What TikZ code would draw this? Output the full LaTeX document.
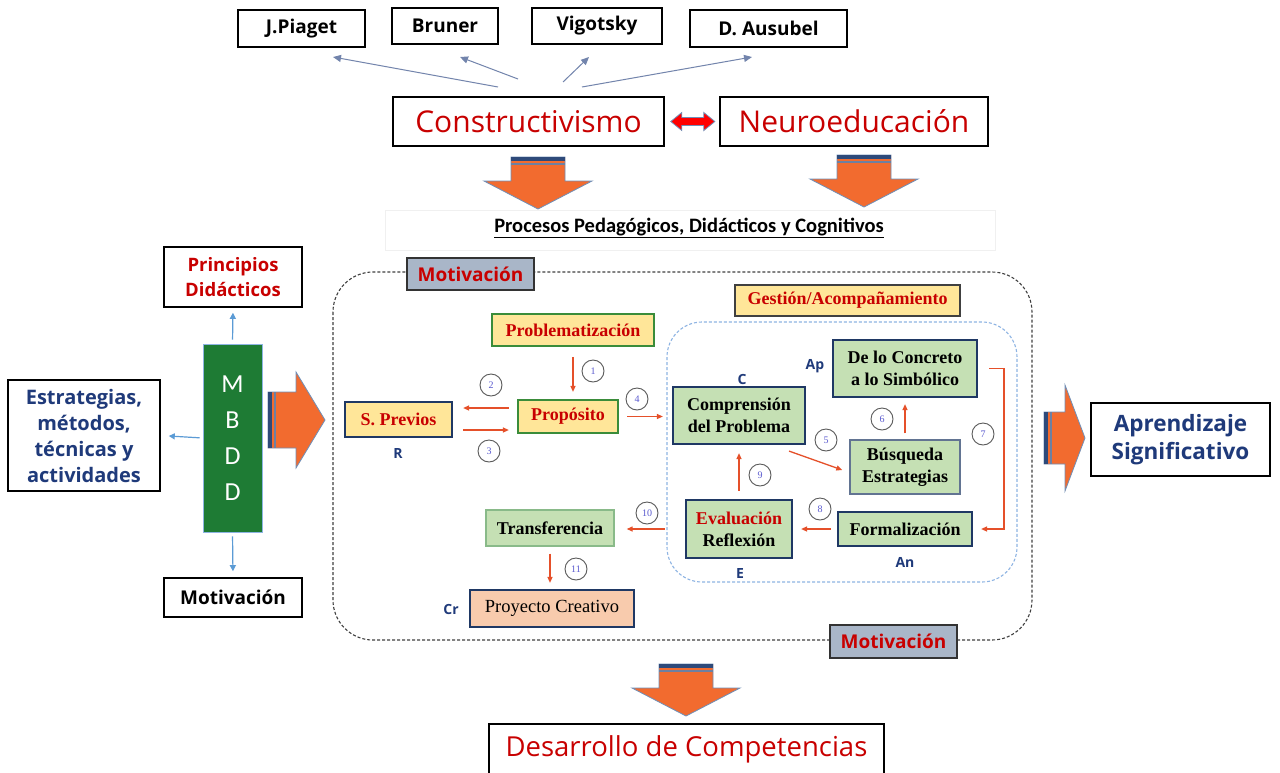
\documentclass[tikz,border=0pt]{standalone}
\usepackage{fontspec}
\setmainfont{Liberation Serif}
\newfontfamily\comicfont{Open Sans}
\newfontfamily\calibrifont{Carlito}
\usepackage{tikz}
\usetikzlibrary{
  arrows.meta,
  calc
}
\definecolor{arrowOrange}{HTML}{F26B2F}
\definecolor{arrowEdge}{HTML}{6F8FB8}
\definecolor{stripeBlue}{HTML}{2E4A7A}
\definecolor{titleRed}{HTML}{C80000}
\definecolor{textNavy}{HTML}{1F3A7A}
\definecolor{boxNavy}{HTML}{1F3864}
\definecolor{boxGreen}{HTML}{3A8C3A}
\definecolor{paleYellow}{HTML}{FFE699}
\definecolor{paleGreen}{HTML}{C5E0B4}
\definecolor{paleSalmon}{HTML}{F8CBAD}
\definecolor{mbddGreen}{HTML}{1E7B34}
\definecolor{lightArrow}{HTML}{5B9BD5}
\definecolor{motivGray}{HTML}{A9B6C8}
\definecolor{flowRed}{HTML}{E5502A}
\definecolor{frameBlue}{HTML}{8EB4E3}
\definecolor{numBlue}{HTML}{5A5ACF}
\definecolor{fanLine}{HTML}{7284AC}
\tikzset{
  every node/.style={inner sep=2pt},
  author/.style={draw=black,line width=1.6pt,fill=white,font=\comicfont\bfseries\fontsize{19}{22}\selectfont},
  theory/.style={draw=black,line width=1.6pt,fill=white,text=titleRed,font=\comicfont\fontsize{30}{34}\selectfont},
  sidebox/.style={draw=black,line width=1.6pt,fill=white,align=center,font=\comicfont\bfseries\fontsize{19}{27}\selectfont},
  motivlabel/.style={draw=black!80,line width=1.4pt,fill=motivGray,text=titleRed,font=\comicfont\bfseries\fontsize{19}{22}\selectfont},
  stage/.style={line width=2.2pt,align=center,font=\bfseries\fontsize{18}{22}\selectfont},
  yellowstage/.style={stage,fill=paleYellow,text=titleRed},
  greenstage/.style={stage,fill=paleGreen,draw=boxNavy},
  tag/.style={text=textNavy,font=\comicfont\bfseries\fontsize{14}{16}\selectfont},
  num/.style={circle,draw=black!65,line width=0.9pt,minimum size=22pt,inner sep=0pt,text=numBlue,font=\fontsize{10}{11}\selectfont},
  flow/.style={flowRed,line width=1.3pt,-{Triangle[length=6pt,width=5pt]}},
  fan/.style={fanLine,line width=1pt,-{Triangle[length=8pt,width=7pt]},draw=fanLine},
  lightflow/.style={lightArrow,line width=1.2pt,-{Triangle[length=6pt,width=6pt]}},
  pics/bigdown/.style={code={
    \filldraw[fill=arrowOrange,draw=arrowEdge,line width=0.8pt] (-27,0) -- (27,0) -- (27,24) -- (54,24) -- (0,52) -- (-54,24) -- (-27,24) -- cycle;
    \fill[stripeBlue] (-27,0) rectangle (27,4);
    \draw[stripeBlue!70,line width=1.2pt] (-27,7) -- (27,7);
  }},
  pics/bigright/.style n args={4}{code={
    \filldraw[fill=arrowOrange,draw=arrowEdge,line width=0.8pt] (0,-#2) -- (#1,-#2) -- (#1,-#4) -- (#1+#3,0) -- (#1,#4) -- (#1,#2) -- (0,#2) -- cycle;
    \fill[stripeBlue] (0,-#2) rectangle (4,#2);
    \draw[stripeBlue!70,line width=1.2pt] (7,-#2) -- (7,#2);
  }}
}

\begin{document}
\begin{tikzpicture}[x=1pt,y=-1pt]
\useasboundingbox[fill=white] (0,0) rectangle (1280,772);
% authors and theories
\node[author,minimum width=127,minimum height=37] (piaget) at (301.5,28.5) {J.Piaget};
\node[author,minimum width=106,minimum height=36] (bruner) at (445,26) {Bruner};
\node[author,minimum width=130,minimum height=36] (vigotsky) at (597,26) {Vigotsky};
\node[author,minimum width=157,minimum height=37] (ausubel) at (768.5,28.5) {D. Ausubel};
\node[theory,minimum width=271,minimum height=49] (cons) at (528.5,121.5) {Constructivismo};
\node[theory,minimum width=268,minimum height=49] (neuro) at (854,121.5) {Neuroeducación};
\coordinate (piagetTail) at (498,87);  \coordinate (piagetHead) at (333,57);
\coordinate (brunerTail) at (518,79);  \coordinate (brunerHead) at (460,57);
\coordinate (vigotskyTail) at (563,82); \coordinate (vigotskyHead) at (589,57);
\coordinate (ausubelTail) at (582,87); \coordinate (ausubelHead) at (752,57);
\foreach \who in {piaget,bruner,vigotsky,ausubel}
  \draw[fan] (\who Tail) -- (\who Head);
\begin{scope}[shift={(cons.east)}]
  \filldraw[fill=red,draw=arrowEdge,line width=0.8pt] (6,0) -- (17,-9) -- (17,-4) -- (39,-4) -- (39,-9) -- (50,0) -- (39,9) -- (39,4) -- (17,4) -- (17,9) -- cycle;
\end{scope}
\pic at (538,157) {bigdown};
\pic at (864,155) {bigdown};
\draw[black!6] (385,210) rectangle (995,250);
\node[font=\calibrifont\bfseries\fontsize{20.5}{24}\selectfont] (procesos) at (689,228) {\underline{Procesos Pedagógicos, Didácticos y Cognitivos}};
% frames
\draw[black!75,line width=1.1pt,dash pattern=on 3pt off 2pt,rounded corners=40] (333,272) rectangle (1032,640);
\draw[frameBlue,line width=1.1pt,dash pattern=on 3pt off 2pt,rounded corners=35] (667,322) rectangle (1017,582);
\node[motivlabel,minimum width=127,minimum height=32] (motivTop) at (470.5,274) {Motivación};
\node[motivlabel,minimum width=127,minimum height=33] (motivBottom) at (893.5,641.5) {Motivación};
\node[draw=black!75,line width=1.4pt,fill=paleYellow,text=titleRed,font=\bfseries\fontsize{18}{21}\selectfont,minimum width=225,minimum height=31] (gestion) at (847.5,300.5) {Gestión/Acompañamiento};
% stages
\node[yellowstage,draw=boxGreen,line width=1.6pt,minimum width=162,minimum height=32] (probl) at (573,330) {Problematización};
\node[yellowstage,draw=boxGreen,minimum width=100,minimum height=33] (propo) at (568,416.5) {Propósito};
\node[yellowstage,draw=boxNavy,minimum width=107,minimum height=35] (sprev) at (398.5,419.5) {S. Previos};
\node[greenstage,draw=boxGreen!60,line width=1.4pt,minimum width=128,minimum height=36] (transf) at (550,528) {Transferencia};
\node[stage,fill=paleSalmon,draw=boxNavy,font=\fontsize{18.5}{22}\selectfont,minimum width=164,minimum height=37] (proyecto) at (552,608.5) {Proyecto Creativo};
\node[greenstage,minimum width=132,minimum height=57] (compr) at (739,415.5) {Comprensión\\del Problema};
\node[greenstage,minimum width=144,minimum height=57] (concreto) at (905,368.5) {De lo Concreto\\a lo Simbólico};
\node[greenstage,draw=boxNavy!70,line width=1.4pt,minimum width=110,minimum height=54] (busq) at (905,467) {Búsqueda\\Estrategias};
\node[greenstage,minimum width=106,minimum height=58] (eval) at (739,529) {\textcolor{titleRed}{Evaluación}\\Reflexión};
\node[greenstage,minimum width=134,minimum height=34] (formal) at (905,529) {Formalización};
\node[tag] (tagR) at (398,453) {R};
\node[tag] (tagCr) at (451,609) {Cr};
\node[tag] (tagC) at (742,379) {C};
\node[tag] (tagAp) at (815,366) {Ap};
\node[tag] (tagE) at (740,573) {E};
\node[tag] (tagAn) at (905,562) {An};
% numbered flow
\draw[flow] (probl.south) ++(0,10) -- ([yshift=7pt]probl.south |- propo.north);
\draw[flow,shorten <=8pt,shorten >=10pt] ([yshift=8.5pt]propo.west) -- ([yshift=8.5pt]propo.west -| sprev.east);
\draw[flow,shorten <=10pt,shorten >=8pt] ([yshift=-10.5pt]sprev.east) -- ([yshift=-10.5pt]sprev.east -| propo.west);
\draw[flow,shorten <=8pt,shorten >=9pt] (propo.east) -- (propo.east -| compr.west);
\draw[flow] ([xshift=-17pt,yshift=-6pt]compr.south east) -- ([xshift=-7pt,yshift=-3pt]busq.west);
\draw[flow,shorten <=6pt,shorten >=6pt] (busq.north) -- (concreto.south);
\draw[flow] (concreto.east) ++(11,0) -- ++(15,0) |- ([xshift=8pt]formal.east);
\draw[flow,shorten <=6pt,shorten >=8pt] (formal.west) -- (formal.west -| eval.east);
\draw[flow,shorten <=8pt,shorten >=8pt] (eval.north) -- (compr.south);
\draw[flow,shorten <=20pt,shorten >=12pt] (eval.west) -- (eval.west -| transf.east);
\draw[flow,shorten <=7pt,shorten >=6pt] (transf.south) -- (transf.south |- proyecto.north);
\node[num] (n1) at (593,371) {1};
\node[num] (n2) at (491,385) {2};
\node[num] (n3) at (489,451) {3};
\node[num] (n4) at (637,399) {4};
\node[num] (n5) at (826,440) {5};
\node[num] (n6) at (882,419) {6};
\node[num] (n7) at (983,434) {7};
\node[num] (n8) at (820,509) {8};
\node[num] (n9) at (760,475) {9};
\node[num] (n10) at (647,513) {10};
\node[num] (n11) at (576,569) {11};
% MBDD side
\node[fill=mbddGreen,draw=frameBlue,line width=0.8pt,text=white,align=center,font=\calibrifont\fontsize{26}{36}\selectfont,minimum width=59,minimum height=188] (mbdd) at (232.5,438) {M\\B\\D\\D};
\node[sidebox,text=titleRed,font=\comicfont\bfseries\fontsize{18.5}{25}\selectfont,minimum width=138,minimum height=60] (princ) at (233,277) {Principios\\Didácticos};
\node[sidebox,text=textNavy,font=\comicfont\bfseries\fontsize{20}{26}\selectfont,minimum width=152,minimum height=111] (estrat) at (84,435.5) {Estrategias,\\métodos,\\técnicas y\\actividades};
\node[sidebox,minimum width=138,minimum height=39] (motivLeft) at (233,597.5) {Motivación};
\draw[lightflow,shorten <=4pt,shorten >=5pt] (mbdd.north) -- (princ.south);
\draw[lightflow,shorten <=3pt,shorten >=8pt] (mbdd.west) -- (estrat.east);
\draw[lightflow,shorten <=4pt,shorten >=6pt] (mbdd.south) -- (motivLeft.north);
\pic at (268,420) {bigright={28}{28}{29}{48}};
% outcomes
\pic at (1044,438) {bigright={21}{26}{20}{53}};
\node[sidebox,text=textNavy,font=\comicfont\bfseries\fontsize{22.5}{28}\selectfont,minimum width=179,minimum height=73] (aprend) at (1180.5,439.5) {Aprendizaje\\Significativo};
\pic at (686,664) {bigdown};
\node[theory,font=\comicfont\fontsize{27.5}{32}\selectfont,minimum width=395,minimum height=50] (desarrollo) at (686.5,749) {Desarrollo de Competencias};
\end{tikzpicture}
\end{document}
